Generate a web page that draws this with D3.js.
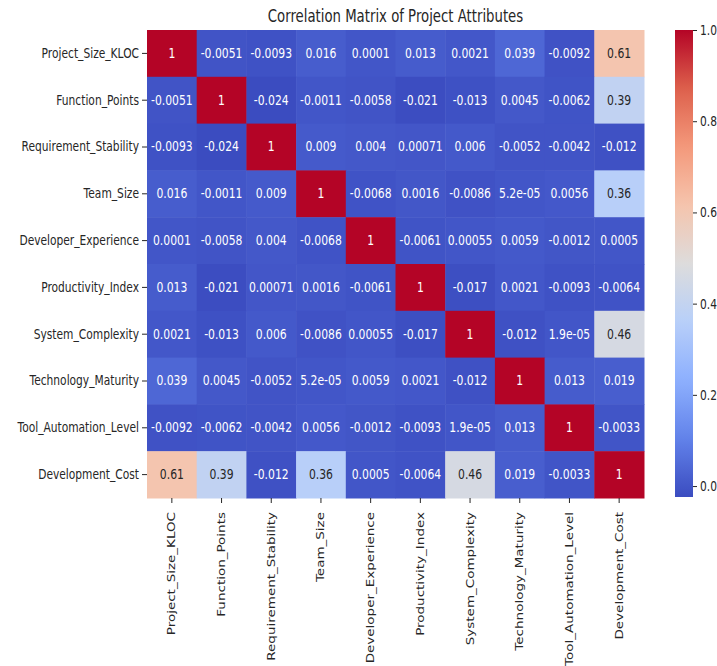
<!DOCTYPE html>
<html>
<head>
<meta charset="utf-8">
<script src="https://cdn.jsdelivr.net/npm/d3@7"></script>
<style>
  html, body { margin: 0; padding: 0; background: #fff; }
  svg { display: block; }
  text { font-family: "DejaVu Sans", sans-serif; }
</style>
</head>
<body>
<svg id="chart" width="717" height="666"></svg>
<script>
const variables = ["Project_Size_KLOC", "Function_Points", "Requirement_Stability", "Team_Size",
  "Developer_Experience", "Productivity_Index", "System_Complexity", "Technology_Maturity",
  "Tool_Automation_Level", "Development_Cost"];

const rowProjectSize   = [1, -0.0051, -0.0093, 0.016, 0.0001, 0.013, 0.0021, 0.039, -0.0092, 0.61];
const rowFunctionPts   = [-0.0051, 1, -0.024, -0.0011, -0.0058, -0.021, -0.013, 0.0045, -0.0062, 0.39];
const rowReqStability  = [-0.0093, -0.024, 1, 0.009, 0.004, 0.00071, 0.006, -0.0052, -0.0042, -0.012];
const rowTeamSize      = [0.016, -0.0011, 0.009, 1, -0.0068, 0.0016, -0.0086, 5.2e-05, 0.0056, 0.36];
const rowDevExperience = [0.0001, -0.0058, 0.004, -0.0068, 1, -0.0061, 0.00055, 0.0059, -0.0012, 0.0005];
const rowProductivity  = [0.013, -0.021, 0.00071, 0.0016, -0.0061, 1, -0.017, 0.0021, -0.0093, -0.0064];
const rowSysComplexity = [0.0021, -0.013, 0.006, -0.0086, 0.00055, -0.017, 1, -0.012, 1.9e-05, 0.46];
const rowTechMaturity  = [0.039, 0.0045, -0.0052, 5.2e-05, 0.0059, 0.0021, -0.012, 1, 0.013, 0.019];
const rowToolAutomation= [-0.0092, -0.0062, -0.0042, 0.0056, -0.0012, -0.0093, 1.9e-05, 0.013, 1, -0.0033];
const rowDevCost       = [0.61, 0.39, -0.012, 0.36, 0.0005, -0.0064, 0.46, 0.019, -0.0033, 1];

const matrix = [rowProjectSize, rowFunctionPts, rowReqStability, rowTeamSize, rowDevExperience,
  rowProductivity, rowSysComplexity, rowTechMaturity, rowToolAutomation, rowDevCost];

const colorbarTicks = [0.0, 0.2, 0.4, 0.6, 0.8, 1.0];
const titleText = "Correlation Matrix of Project Attributes";

// matplotlib coolwarm control points
const coolwarmStops = ["#3b4cc0", "#6282ea", "#8db0fe", "#b8cff9", "#dddcdc", "#f5c4ad", "#f4997b", "#dd604c", "#b40426"];

(function () {
const svg = d3.select("#chart");
const mLeft = 147, mRight = 644, mTop = 30, mBottom = 498;
const SX = 0.79; // horizontal squeeze of the reference picture
const ink = "#262626";

const x = d3.scaleBand().domain(variables).range([mLeft, mRight]);
const y = d3.scaleBand().domain(variables).range([mTop, mBottom]);

const all = matrix.flat();
const vmin = d3.min(all), vmax = d3.max(all);
const t = d3.scaleLinear().domain([vmin, vmax]).range([0, 1]);
const cw = d3.scaleLinear().domain(coolwarmStops.map((c, i) => i / (coolwarmStops.length - 1)))
  .range(coolwarmStops).interpolate(d3.interpolateRgb).clamp(true);
const color = v => cw(t(v));

function fmt(v) {
  if (v === 0) return "0";
  const a = Math.abs(v);
  const e = Math.floor(Math.log10(a));
  if (e < -4 || e >= 2) {
    let s = v.toExponential(1);
    let [m, ex] = s.split("e");
    m = m.replace(/\.?0+$/, "");
    const sign = ex[0] === "-" ? "-" : "+";
    let digits = ex.replace(/^[+-]/, "");
    if (digits.length < 2) digits = "0" + digits;
    return m + "e" + sign + digits;
  }
  let s = v.toPrecision(2);
  if (s.indexOf(".") >= 0) s = s.replace(/0+$/, "").replace(/\.$/, "");
  return s;
}
function lum(c) {
  const r = d3.rgb(c);
  const f = u => { u /= 255; return u <= 0.03928 ? u / 12.92 : Math.pow((u + 0.055) / 1.055, 2.4); };
  return 0.2126 * f(r.r) + 0.7152 * f(r.g) + 0.0722 * f(r.b);
}

const cells = [];
matrix.forEach((row, i) => row.forEach((v, j) => cells.push({ r: variables[i], c: variables[j], v })));

svg.append("g").selectAll("rect").data(cells).join("rect")
  .attr("x", d => x(d.c)).attr("y", d => y(d.r))
  .attr("width", x.bandwidth() + 0.5).attr("height", y.bandwidth() + 0.5)
  .attr("fill", d => color(d.v));

svg.append("g").selectAll("text").data(cells).join("text")
  .attr("transform", d => `translate(${x(d.c) + x.bandwidth() / 2},${y(d.r) + y.bandwidth() / 2}) scale(${SX},1)`)
  .attr("text-anchor", "middle").attr("dominant-baseline", "central")
  .attr("font-size", 13.7)
  .attr("fill", d => lum(color(d.v)) > 0.408 ? ink : "#ffffff")
  .text(d => fmt(d.v));

// Y axis
const yAxis = svg.append("g").attr("transform", `translate(${mLeft},0)`)
  .call(d3.axisLeft(y).tickSize(5).tickPadding(2));
yAxis.select(".domain").remove();
yAxis.selectAll("line").attr("stroke", ink);
yAxis.selectAll("text")
  .attr("x", null).attr("dy", null)
  .attr("transform", `translate(-8,0) scale(${SX},1)`)
  .attr("dominant-baseline", "central")
  .attr("font-size", 13.5).attr("fill", ink);

// X axis
const xAxis = svg.append("g").attr("transform", `translate(0,${mBottom})`)
  .call(d3.axisBottom(x).tickSize(5).tickPadding(2));
xAxis.select(".domain").remove();
xAxis.selectAll("line").attr("stroke", ink);
xAxis.selectAll("text")
  .attr("x", null).attr("y", null).attr("dy", null)
  .attr("transform", `translate(0,14) rotate(-90) scale(1,${SX})`)
  .attr("text-anchor", "end")
  .attr("dominant-baseline", "central")
  .attr("font-size", 13.5).attr("fill", ink);

// Title
svg.append("text")
  .attr("transform", `translate(${(mLeft + mRight) / 2},22) scale(${SX},1)`)
  .attr("text-anchor", "middle").attr("font-size", 16.8).attr("fill", ink)
  .text(titleText);

// Colorbar
const cbLeft = 675, cbWidth = 18, cbBottom = 497;
const cbScale = d3.scaleLinear().domain([vmin, vmax]).range([cbBottom, mTop]);
const defs = svg.append("defs");
const grad = defs.append("linearGradient").attr("id", "cbgrad")
  .attr("x1", 0).attr("y1", 1).attr("x2", 0).attr("y2", 0);
d3.range(0, 1.0001, 0.02).forEach(p => {
  grad.append("stop").attr("offset", p).attr("stop-color", cw(p));
});
svg.append("rect").attr("x", cbLeft).attr("y", mTop).attr("width", cbWidth)
  .attr("height", cbBottom - mTop).attr("fill", "url(#cbgrad)");
const cbAxis = svg.append("g").attr("transform", `translate(${cbLeft + cbWidth},0)`)
  .call(d3.axisRight(cbScale).tickValues(colorbarTicks).tickFormat(d3.format(".1f")).tickSize(4).tickPadding(2));
cbAxis.select(".domain").remove();
cbAxis.selectAll("line").attr("stroke", ink);
cbAxis.selectAll("text")
  .attr("x", null).attr("dy", null)
  .attr("transform", `translate(7,0) scale(${SX},1)`)
  .attr("dominant-baseline", "central")
  .attr("font-size", 13.5).attr("fill", ink);
})();
</script>
</body>
</html>
